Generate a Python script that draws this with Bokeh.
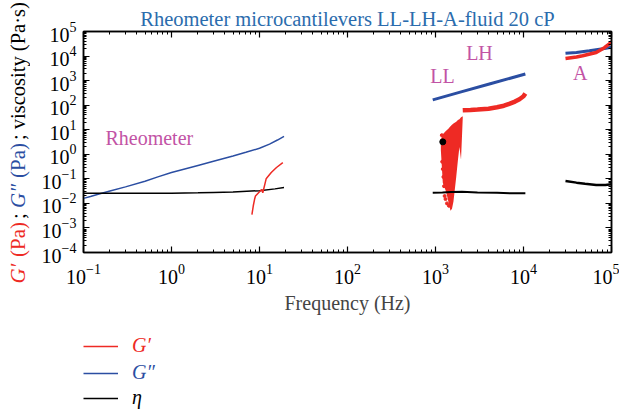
import numpy as np
from bokeh.plotting import figure
from bokeh.layouts import row, column
from bokeh.models import (Label, Legend, LegendItem, LogAxis, FixedTicker,
                          CustomJSTickFormatter, Range1d)
from bokeh.embed import file_html
from bokeh.resources import INLINE

FONT = "Liberation Serif"
RED = "#ee2a24"
BLUE = "#2b4ea2"
BLACK = "#000000"
MAG = "#c253a5"
TBLUE = "#2b6cad"

# ---- data ----
# Rheometer
rheo_f_gpp = [0.1, 0.12, 0.15, 0.2, 0.3, 0.5, 0.7, 1, 2, 3, 5, 7, 10, 13, 16, 19]
rheo_gpp = [0.016, 0.019, 0.024, 0.032, 0.047, 0.08, 0.12, 0.18, 0.35, 0.52, 0.85, 1.2, 1.75, 2.6, 3.8, 5.4]
rheo_f_eta = [0.1, 0.2, 0.5, 1, 2, 3, 5, 10, 15, 19]
rheo_eta = [0.026, 0.026, 0.026, 0.026, 0.027, 0.028, 0.029, 0.033, 0.039, 0.044]
rheo_f_gp = [8.2, 8.5, 8.8, 9.0, 10.0, 10.6, 10.9, 11.9, 13.6, 15.6, 18.4]
rheo_gp = [0.0035, 0.008, 0.015, 0.02, 0.03, 0.037, 0.027, 0.1, 0.18, 0.29, 0.46]

# LL / LH cantilevers
ll_f_gpp = [930, 2000, 4000, 10500]
ll_gpp = [165, 355, 710, 1850]
ll_f_eta = [930, 1200, 1500, 2000, 3000, 5000, 7000, 10500]
ll_eta = [0.027, 0.028, 0.029, 0.030, 0.028, 0.027, 0.026, 0.026]
ll_band_f = [1150, 1210, 1320, 1400, 1480, 1540, 1600, 1720, 1800, 1870, 1950, 2040]
ll_band_lo = [1.5, 0.07, 0.03, 0.012, 0.005, 0.006, 0.012, 0.12, 0.6, 2.0, 0.6, 30]
ll_band_hi = [4, 6.5, 9, 11, 14, 16, 18, 21, 25, 27, 32, 35]
ll_dots_f = [1180, 1190, 1210, 1230, 1250, 1270, 1300, 1350, 1380, 1420]
ll_dots_gp = [6.0, 0.5, 0.25, 0.12, 0.05, 0.02, 0.015, 0.01, 0.03, 0.008]
lh_f_gp = [2040, 2500, 3000, 4000, 5000, 6000, 7000, 8000, 9000, 10000, 10500]
lh_gp = [62, 64, 66, 72, 82, 95, 115, 140, 175, 230, 300]
eta_dot_f = [1210]
eta_dot = [3.2]

# A cantilever
a_f_gpp = [3.0e4, 4e4, 5.6e4, 8e4, 1e5]
a_gpp = [1.29e4, 1.4e4, 1.65e4, 2.0e4, 2.3e4]
a_f_gp = [3.0e4, 4e4, 4.7e4, 6.7e4, 8.3e4, 9.2e4, 1e5]
a_gp = [8000, 9200, 10300, 14000, 22000, 29000, 38000]
a_f_eta = [3.0e4, 4e4, 5e4, 6.7e4, 8.5e4, 1e5]
a_eta = [0.081, 0.070, 0.063, 0.056, 0.056, 0.060]

x_decades = [1e-1, 1e0, 1e1, 1e2, 1e3, 1e4, 1e5]
y_decades = [1e-4, 1e-3, 1e-2, 1e-1, 1e0, 1e1, 1e2, 1e3, 1e4, 1e5]

legend_labels = ["G\u2032", "G\u2033", "\u03b7"]
legend_colors = [RED, BLUE, BLACK]


def minors(decs):
    out = []
    for d in decs[:-1]:
        out += [k * d for k in range(2, 10)]
    return out


def blank_fig(w, h):
    f = figure(width=w, height=h, x_range=Range1d(0, w), y_range=Range1d(0, h),
               output_backend="svg", toolbar_location=None,
               x_axis_location=None, y_axis_location=None,
               min_border_left=0, min_border_right=0, min_border_top=0,
               min_border_bottom=0)
    f.grid.visible = False
    f.outline_line_color = None
    f.background_fill_color = "white"
    f.border_fill_color = "white"
    return f


# ---------------- main plot ----------------
p = figure(width=589, height=322, x_axis_type="log", y_axis_type="log",
           x_range=Range1d(0.1, 1e5), y_range=Range1d(1e-4, 1e5),
           output_backend="svg", toolbar_location=None,
           min_border_left=53, min_border_right=8, min_border_top=31,
           min_border_bottom=70)

p.title.text = "Rheometer microcantilevers LL-LH-A-fluid 20 cP"
p.title.align = "center"
p.title.text_font = FONT
p.title.text_font_size = "20.5px"
p.title.text_font_style = "normal"
p.title.text_color = TBLUE
p.title.standoff = 4
p.title.offset = 0

p.grid.visible = False
p.outline_line_color = "black"
p.outline_line_width = 1.5
p.background_fill_color = "white"
p.border_fill_color = "white"


def style_axis(ax, ticks, show_labels=True):
    ax.ticker = FixedTicker(ticks=ticks, minor_ticks=minors(ticks))
    ax.major_tick_in = 6
    ax.major_tick_out = 0
    ax.minor_tick_in = 3
    ax.minor_tick_out = 0
    ax.axis_line_width = 1.5
    ax.major_tick_line_width = 1.2
    ax.minor_tick_line_width = 1
    if show_labels:
        ax.major_label_text_font = FONT
        ax.major_label_text_font_size = "20px"
        ax.major_label_text_color = "black"
    else:
        ax.formatter = CustomJSTickFormatter(code="return ''")
        ax.major_label_text_font_size = "4px"
        ax.major_label_standoff = 0


style_axis(p.xaxis[0], x_decades)
style_axis(p.yaxis[0], y_decades)
p.xaxis[0].major_label_standoff = 11
p.yaxis[0].major_label_standoff = 7
p.xaxis[0].axis_label = "Frequency (Hz)"
p.xaxis[0].axis_label_text_font = FONT
p.xaxis[0].axis_label_text_font_size = "20px"
p.xaxis[0].axis_label_text_font_style = "normal"
p.xaxis[0].axis_label_standoff = 5

top_ax = LogAxis()
style_axis(top_ax, x_decades, show_labels=False)
p.add_layout(top_ax, "above")
right_ax = LogAxis()
style_axis(right_ax, y_decades, show_labels=False)
p.add_layout(right_ax, "right")

p.line(rheo_f_gpp, rheo_gpp, line_color=BLUE, line_width=1.5)
p.line(rheo_f_eta, rheo_eta, line_color=BLACK, line_width=1.5)
p.line(rheo_f_gp, rheo_gp, line_color=RED, line_width=1.5)

p.line(ll_f_gpp, ll_gpp, line_color=BLUE, line_width=3)
p.varea(x=ll_band_f, y1=ll_band_lo, y2=ll_band_hi, fill_color=RED)
p.scatter(ll_dots_f, ll_dots_gp, size=3, color=RED)
p.line(lh_f_gp, lh_gp, line_color=RED, line_width=4.5)
p.line(ll_f_eta, ll_eta, line_color=BLACK, line_width=2)
p.scatter(eta_dot_f, eta_dot, size=6, color=BLACK)

p.line(a_f_gpp, a_gpp, line_color=BLUE, line_width=3)
p.line(a_f_gp, a_gp, line_color=RED, line_width=3.5)
p.line(a_f_eta, a_eta, line_color=BLACK, line_width=2.5)

for txt, x, y in [("Rheometer", 0.56, 4.6), ("LL", 1200, 1480),
                  ("LH", 3160, 13600), ("A", 44000, 1970)]:
    p.add_layout(Label(x=x, y=y, text=txt, text_font=FONT, text_font_size="20px",
                       text_color=MAG, text_align="center", text_baseline="middle"))

# ---------------- multi-coloured y-axis label (own narrow panel) ----------------
ylab = blank_fig(30, 410)
ylab_parts = [("G\u2032", RED, "italic", 127, "21px"), (" (Pa)", RED, "normal", 153.5, "21px"),
              ("; ", BLACK, "normal", 191.5, "21px"), ("G\u2033", BLUE, "italic", 202.5, "21px"),
              (" (Pa)", BLUE, "normal", 232.5, "21px"),
              ("; viscosity (Pa\u00b7s)", BLACK, "normal", 270.5, "20.5px")]
for txt, col, sty, ypos, fs in ylab_parts:
    ylab.add_layout(Label(x=17, y=ypos, text=txt, angle=np.pi / 2, text_font=FONT,
                          text_font_size=fs, text_font_style=sty, text_color=col,
                          text_align="left", text_baseline="middle"))

# ---------------- legend (own panel under the plot) ----------------
leg = blank_fig(589, 88)
for lab, col, ypos in zip(legend_labels, legend_colors, [53, 26, 1]):
    # sample renderer kept outside the visible range; it only feeds the legend glyph
    r = leg.line([-100, -90], [-100, -100], line_color=col, line_width=1.5)
    lg = Legend(items=[LegendItem(label=lab, renderers=[r])], location=(0, ypos),
                label_text_font=FONT, label_text_font_size="20px",
                label_text_font_style="italic", label_text_color=col,
                glyph_width=35, glyph_height=20, label_height=20,
                label_standoff=14, padding=0, margin=0, spacing=0,
                border_line_alpha=0, background_fill_alpha=0)
    leg.add_layout(lg, "center")

layout = row(ylab, column(p, leg))
open("out.html", "w").write(file_html(layout, INLINE))
